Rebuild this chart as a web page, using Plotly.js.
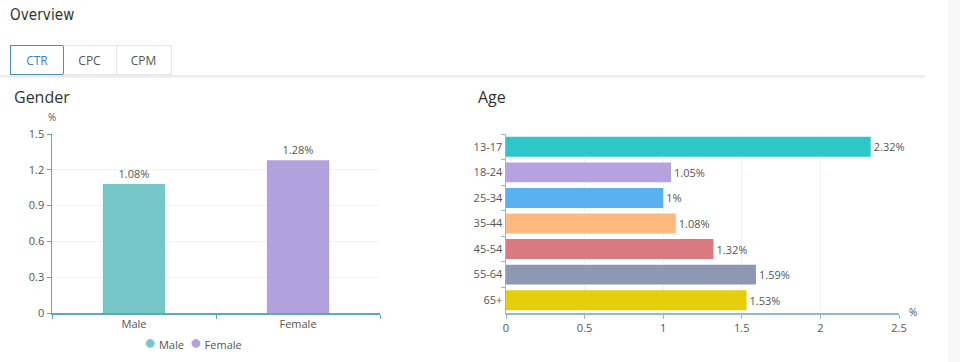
<!DOCTYPE html>
<html>
<head>
<meta charset="utf-8">
<script src="https://cdn.plot.ly/plotly-3.0.1.min.js"></script>
<style>
  html, body { margin:0; padding:0; width:960px; height:362px; overflow:hidden; background:#fff; font-family:"Open Sans", sans-serif; }
  #chart { position:absolute; left:0; top:0; width:960px; height:362px; }
  .ov { position:absolute; left:10px; top:6px; font-family:"DejaVu Sans Condensed","DejaVu Sans",sans-serif; font-size:15px; color:#333; letter-spacing:0.1px; }
  .tab { position:absolute; top:45px; height:29px; line-height:29px; text-align:center; font-size:12px; color:#555; border:1px solid #e6e6e6; box-sizing:border-box; height:30px; }
  .tab.active { border:1px solid #4a90c8; color:#3a7fc0; }
  .rule { position:absolute; left:0; top:75px; width:925px; height:2px; background:#ececec; box-shadow:0 1px 1px #f2f2f2; }
  .strip { position:absolute; left:948px; top:0; width:12px; height:362px; background:#f8f8f8; }
  .h { position:absolute; top:86px; font-size:16px; color:#333; }
</style>
</head>
<body>
<div id="chart"></div>
<div class="ov">Overview</div>
<div class="tab active" style="left:10px;width:54px;">CTR</div>
<div class="tab" style="left:63px;width:54px;border-left:none;">CPC</div>
<div class="tab" style="left:116px;width:56px;border-left:none;">CPM</div>
<div class="rule"></div>
<div class="strip"></div>
<div class="h" style="left:14px;">Gender</div>
<div class="h" style="left:478px;">Age</div>
<script>
// Gender data
const genderCategories = ["Male", "Female"];
const genderValues = [1.08, 1.28];
const genderColors = ["#77c6c7", "#b1a2de"];

// Age data
const ageCategories = ["13-17", "18-24", "25-34", "35-44", "45-54", "55-64", "65+"];
const ageValues = [2.32, 1.05, 1.00, 1.08, 1.32, 1.59, 1.53];
const ageColors = ["#2ec7c9", "#b6a2de", "#5ab1ef", "#ffb980", "#d87a80", "#8d98b3", "#e5cf0d"];

const yTicks = [0, 0.3, 0.6, 0.9, 1.2, 1.5];
const xTicks = [0, 0.5, 1, 1.5, 2, 2.5];

const fmt = v => (Math.round(v * 100) / 100) + "%";
const txtFont = {family: "Open Sans, sans-serif", size: 11, color: "#555"};

const traces = [];
genderCategories.forEach((c, i) => {
  traces.push({
    type: "bar", x: [c], y: [genderValues[i]], name: c,
    marker: {color: genderColors[i]}, width: 0.38,
    text: [fmt(genderValues[i])], textposition: "outside", textfont: txtFont,
    cliponaxis: false, showlegend: false, xaxis: "x", yaxis: "y"
  });
});
traces.push({
  type: "bar", orientation: "h", x: ageValues, y: ageCategories,
  marker: {color: ageColors}, width: 0.78,
  text: ageValues.map(fmt), textposition: "outside", textfont: txtFont,
  cliponaxis: false, showlegend: false, xaxis: "x2", yaxis: "y2"
});

const W = 960, H = 362;
const tickFont = {family: "Open Sans, sans-serif", size: 11, color: "#555"};
const yBot = (H - 313) / H, yTop = (H - 134) / H;

// legend built from the category names and colours
const legendText = genderCategories.map((c, i) =>
  '<span style="color:' + genderColors[i] + ';font-size:20px">●</span> ' + c
).join('  ');

const layout = {
  width: W, height: H,
  margin: {l: 0, r: 0, t: 0, b: 0},
  paper_bgcolor: "rgba(0,0,0,0)", plot_bgcolor: "rgba(0,0,0,0)",
  barmode: "overlay", showlegend: false,
  font: {family: "Open Sans, sans-serif", size: 11, color: "#555"},
  xaxis: {
    domain: [52 / W, 380 / W], type: "category", categoryarray: genderCategories,
    showline: true, linecolor: "#5aa9bd", linewidth: 2,
    ticks: "outside", tickson: "boundaries", ticklen: 4, tickcolor: "#5aa9bd",
    showgrid: false, tickfont: tickFont, zeroline: false, fixedrange: true
  },
  yaxis: {
    domain: [yBot, yTop], range: [0, 1.5], tickvals: yTicks,
    ticktext: yTicks.map(v => String(v)),
    showline: true, linecolor: "#5aa9bd", linewidth: 1.5,
    ticks: "outside", ticklen: 4, tickcolor: "#5aa9bd",
    showgrid: true, gridcolor: "#f2f2f2", zeroline: false, tickfont: tickFont, fixedrange: true
  },
  xaxis2: {
    domain: [506 / W, 899 / W], range: [0, 2.5], tickvals: xTicks,
    ticktext: xTicks.map(v => String(v)), anchor: "y2",
    showline: true, linecolor: "#8fbad2", linewidth: 2,
    ticks: "outside", ticklen: 4, tickcolor: "#8fbad2",
    showgrid: true, gridcolor: "#f2f2f2", zeroline: false, tickfont: tickFont, fixedrange: true
  },
  yaxis2: {
    domain: [yBot, yTop], type: "category", categoryarray: ageCategories,
    autorange: "reversed", anchor: "x2",
    showline: true, linecolor: "#8fbad2", linewidth: 1.5,
    ticks: "outside", tickson: "boundaries", ticklen: 4, tickcolor: "#8fbad2",
    showgrid: false, zeroline: false, tickfont: tickFont, fixedrange: true
  },
  annotations: [
    {text: "%", xref: "paper", yref: "paper", x: 52 / W, y: (H - 117) / H,
     showarrow: false, font: {size: 10, color: "#555"}, xanchor: "center", yanchor: "middle"},
    {text: "%", xref: "paper", yref: "paper", x: 913 / W, y: (H - 312) / H,
     showarrow: false, font: {size: 10, color: "#555"}, xanchor: "center", yanchor: "middle"},
    {text: legendText, xref: "paper", yref: "paper", x: 193 / W, y: (H - 341) / H,
     showarrow: false, font: {size: 11, color: "#555"}, xanchor: "center", yanchor: "middle"}
  ]
};

Plotly.newPlot("chart", traces, layout, {displayModeBar: false, staticPlot: true});
</script>
</body>
</html>
